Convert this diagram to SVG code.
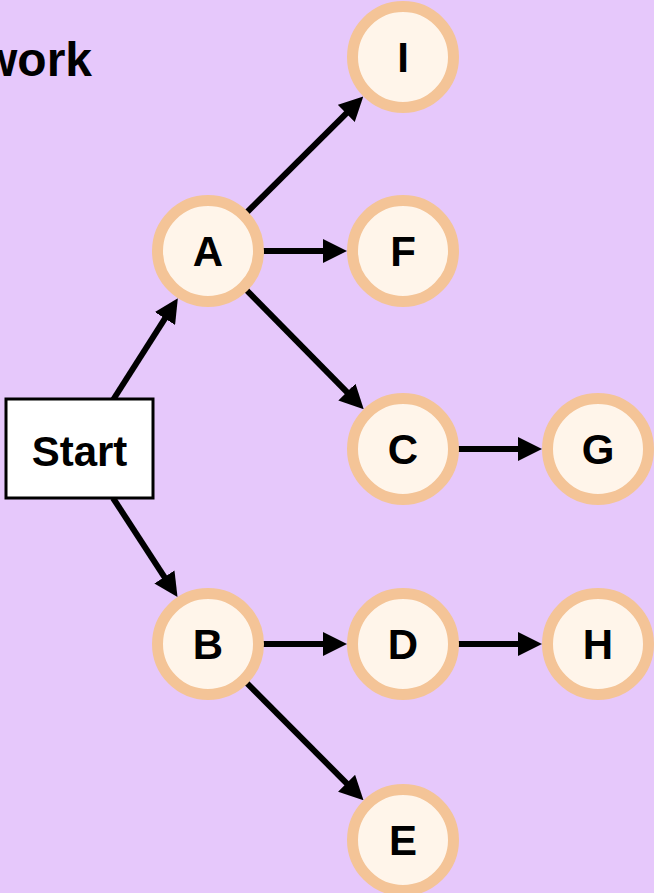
<svg xmlns="http://www.w3.org/2000/svg" width="654" height="893" viewBox="0 0 654 893">
<defs>
<style>
.bg{fill:#E6C8FB}
.edge{stroke:#000;stroke-width:6;fill:none;marker-end:url(#ah)}
.node circle{fill:#FFF5EA;stroke:#F4C497;stroke-width:11}
.lbl{font-family:"Liberation Sans",Arial,sans-serif;font-weight:bold;font-size:42px;fill:#000;text-anchor:middle}
.box{fill:#fff;stroke:#000;stroke-width:3}
</style>
<marker id="ah" viewBox="0 0 24 24" refX="4" refY="12" markerWidth="24" markerHeight="24" markerUnits="userSpaceOnUse" orient="auto">
<path d="M0,0 L24,12 L0,24 z" fill="#000"/>
</marker>
</defs>
<rect class="bg" x="0" y="0" width="654" height="893"/>
<text x="92" y="76" font-family="Liberation Sans, Arial, sans-serif" font-weight="bold" font-size="48" text-anchor="end">work</text>
<g id="connectors">
<line class="edge" x1="113" y1="400" x2="167.1" y2="315.1"/>
<line class="edge" x1="113" y1="498" x2="166.6" y2="580.3"/>
<line class="edge" x1="208" y1="251" x2="349.1" y2="110.6"/>
<line class="edge" x1="208" y1="251" x2="327" y2="251"/>
<line class="edge" x1="208" y1="251" x2="349.7" y2="394.9"/>
<line class="edge" x1="403" y1="449" x2="522" y2="449"/>
<line class="edge" x1="208" y1="644" x2="327" y2="644"/>
<line class="edge" x1="403" y1="644" x2="522" y2="644"/>
<line class="edge" x1="208" y1="644" x2="349.4" y2="786.1"/>
</g>
<g id="start" class="node"><rect class="box" x="6" y="399" width="147" height="99"/><text class="lbl" x="79.5" y="466">Start</text></g>
<g id="A" class="node"><circle cx="208" cy="251" r="50.5"/><text class="lbl" x="208" y="266">A</text></g>
<g id="I" class="node"><circle cx="403" cy="57" r="50.5"/><text class="lbl" x="403" y="72">I</text></g>
<g id="F" class="node"><circle cx="403" cy="251" r="50.5"/><text class="lbl" x="403" y="266">F</text></g>
<g id="C" class="node"><circle cx="403" cy="449" r="50.5"/><text class="lbl" x="403" y="464">C</text></g>
<g id="G" class="node"><circle cx="598" cy="449" r="50.5"/><text class="lbl" x="598" y="464">G</text></g>
<g id="B" class="node"><circle cx="208" cy="644" r="50.5"/><text class="lbl" x="208" y="659">B</text></g>
<g id="D" class="node"><circle cx="403" cy="644" r="50.5"/><text class="lbl" x="403" y="659">D</text></g>
<g id="H" class="node"><circle cx="598" cy="644" r="50.5"/><text class="lbl" x="598" y="659">H</text></g>
<g id="E" class="node"><circle cx="403" cy="840" r="50.5"/><text class="lbl" x="403" y="855">E</text></g>
</svg>
